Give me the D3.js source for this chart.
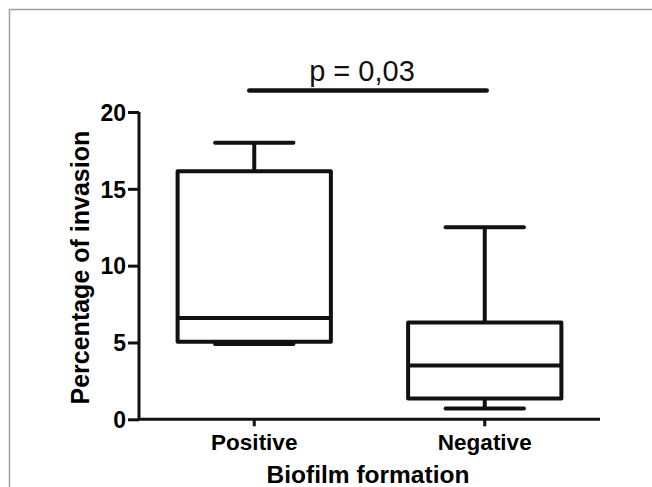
<!DOCTYPE html>
<html><head><meta charset="utf-8">
<script src="https://cdn.jsdelivr.net/npm/d3@7"></script>
<style>body{margin:0;background:#fff}svg{display:block}text{font-family:"Liberation Sans",Arial,sans-serif}</style>
</head><body>
<svg id="c" width="652" height="487"></svg>
<script>
const categories = ["Positive", "Negative"];
const whiskerLow = [4.9, 0.7];
const q1 = [5.05, 1.35];
const median = [6.6, 3.5];
const q3 = [16.15, 6.3];
const whiskerHigh = [18.0, 12.5];
const yTicks = [0, 5, 10, 15, 20];
const pLabel = "p = 0,03";
const pLevel = 21.4;

const svg = d3.select("#c");
const ink = "#111";

// frame
svg.append("path").attr("d","M9.5,487 V9.5 H652").attr("fill","none").attr("stroke","#a0a0a0").attr("stroke-width",1.5);

const x = d3.scaleBand().domain(categories).range([139, 600]);
const y = d3.scaleLinear().domain([0, 20]).range([419.3, 112]);

const yAxis = svg.append("g").attr("transform","translate(139,0)")
  .call(d3.axisLeft(y).tickValues(yTicks).tickSize(11).tickPadding(2));
yAxis.select(".domain").attr("stroke",ink).attr("stroke-width",3).attr("d",`M0,${y(20)}V${y(0)}`);
yAxis.selectAll(".tick line").attr("stroke",ink).attr("stroke-width",3);
yAxis.selectAll(".tick text").attr("fill","#000").style("font-size","23px").style("font-weight","bold").attr("dy","0.36em");

const xAxis = svg.append("g").attr("transform",`translate(0,${y(0)})`)
  .call(d3.axisBottom(x).tickSize(7).tickPadding(8));
xAxis.select(".domain").attr("stroke",ink).attr("stroke-width",3).attr("d","M139,0H600");
xAxis.selectAll(".tick line").attr("stroke",ink).attr("stroke-width",3);
xAxis.selectAll(".tick text").attr("fill","#000").style("font-size","22.5px").style("font-weight","bold");

// axis titles
svg.append("text").attr("x",368).attr("y",483).attr("text-anchor","middle")
  .style("font-size","24.5px").style("font-weight","bold").text("Biofilm formation");
svg.append("text").attr("transform",`translate(89,${y(10)+2}) rotate(-90)`).attr("text-anchor","middle")
  .style("font-size","25px").style("font-weight","bold").text("Percentage of invasion");

// boxes
const bw = x.bandwidth()*0.665, cw = x.bandwidth()*0.34;
const g = svg.append("g").attr("stroke",ink).attr("stroke-width",4).attr("fill","none");
categories.forEach((c,i)=>{
  const cx = x(c) + x.bandwidth()/2;
  g.append("line").attr("x1",cx).attr("x2",cx).attr("y1",y(q3[i])).attr("y2",y(whiskerHigh[i]));
  g.append("line").attr("x1",cx).attr("x2",cx).attr("y1",y(q1[i])).attr("y2",y(whiskerLow[i]));
  g.append("line").attr("x1",cx-cw/2).attr("x2",cx+cw/2).attr("y1",y(whiskerHigh[i])).attr("y2",y(whiskerHigh[i])).attr("stroke-linecap","round");
  g.append("line").attr("x1",cx-cw/2).attr("x2",cx+cw/2).attr("y1",y(whiskerLow[i])).attr("y2",y(whiskerLow[i])).attr("stroke-linecap","round");
  g.append("rect").attr("x",cx-bw/2).attr("width",bw).attr("y",y(q3[i])).attr("height",y(q1[i])-y(q3[i])).attr("fill","#fff").attr("stroke-linejoin","round");
  g.append("line").attr("x1",cx-bw/2).attr("x2",cx+bw/2).attr("y1",y(median[i])).attr("y2",y(median[i]));
});

// significance bar
const x0 = x(categories[0]) + x.bandwidth()/2 - 5, x1 = x(categories[1]) + x.bandwidth()/2 + 2;
svg.append("line").attr("x1",x0).attr("x2",x1).attr("y1",y(pLevel)).attr("y2",y(pLevel))
  .attr("stroke",ink).attr("stroke-width",4.4).attr("stroke-linecap","round");
svg.append("text").attr("x",(x0+x1)/2-6).attr("y",y(pLevel)-9).attr("text-anchor","middle")
  .style("font-size","29px").attr("fill","#111").text(pLabel);
</script>
</body></html>
